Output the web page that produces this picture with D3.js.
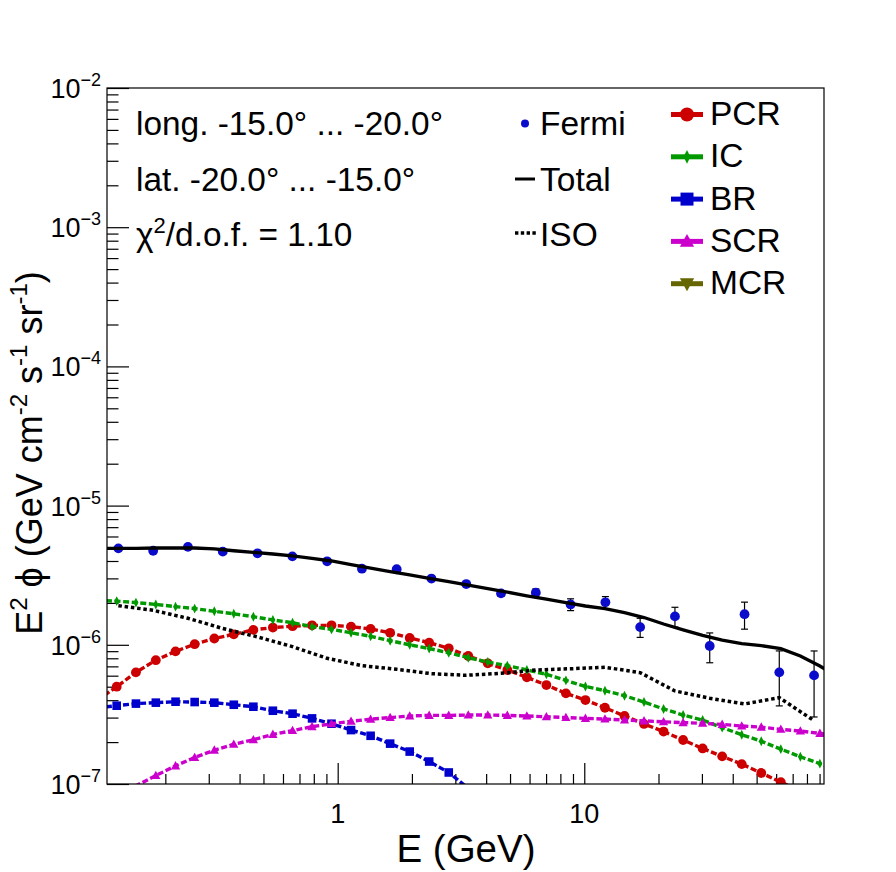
<!DOCTYPE html>
<html>
<head>
<meta charset="utf-8">
<script src="https://cdn.jsdelivr.net/npm/d3@7"></script>
<style>
  body { margin: 0; background: #fff; }
  svg { display: block; }
  text { font-family: "Liberation Sans", Arial, Helvetica, sans-serif; fill: #000; }
</style>
</head>
<body>
<svg id="chart" width="896" height="872"></svg>
<script>
// model grid (GeV), one point per marker
const modelEnergy = [0.106, 0.127, 0.152, 0.183, 0.220, 0.263, 0.316, 0.379, 0.455, 0.546,
    0.656, 0.787, 0.944, 1.133, 1.360, 1.632, 1.959, 2.350, 2.821, 3.385,
    4.062, 4.875, 5.850, 7.020, 8.425, 10.11, 12.13, 14.56, 17.47, 20.97,
    25.17, 30.20, 36.25, 43.51, 52.21, 62.67, 75.21, 90.25, 108.3];

const pcr = [4.0e-7, 5.0e-7, 6.34e-7, 7.75e-7, 8.97e-7, 1.01e-6, 1.11e-6, 1.19e-6, 1.28e-6, 1.33e-6,
    1.36e-6, 1.38e-6, 1.38e-6, 1.35e-6, 1.30e-6, 1.22e-6, 1.12e-6, 1.035e-6, 9.44e-7, 8.31e-7,
    7.36e-7, 6.59e-7, 5.84e-7, 5.14e-7, 4.48e-7, 4.01e-7, 3.53e-7, 3.08e-7, 2.70e-7, 2.38e-7,
    2.07e-7, 1.80e-7, 1.58e-7, 1.39e-7, 1.20e-7, 1.03e-7, 9.0e-8, 7.8e-8, 6.7e-8];

const ic = [2.08e-6, 2.06e-6, 2.01e-6, 1.95e-6, 1.88e-6, 1.82e-6, 1.74e-6, 1.67e-6, 1.59e-6, 1.51e-6,
    1.44e-6, 1.35e-6, 1.29e-6, 1.22e-6, 1.15e-6, 1.07e-6, 1.00e-6, 9.4e-7, 8.77e-7, 8.08e-7,
    7.52e-7, 7.08e-7, 6.59e-7, 6.14e-7, 5.55e-7, 5.02e-7, 4.68e-7, 4.31e-7, 3.88e-7, 3.46e-7,
    3.13e-7, 2.88e-7, 2.54e-7, 2.26e-7, 2.03e-7, 1.78e-7, 1.57e-7, 1.40e-7, 1.25e-7];

const br = [3.53e-7, 3.65e-7, 3.78e-7, 3.84e-7, 3.90e-7, 3.88e-7, 3.84e-7, 3.71e-7, 3.59e-7, 3.36e-7,
    3.20e-7, 2.96e-7, 2.71e-7, 2.44e-7, 2.22e-7, 1.95e-7, 1.71e-7, 1.45e-7, 1.21e-7, 9.3e-8,
    7.0e-8];

const scr = [6.8e-8, 8.2e-8, 9.7e-8, 1.15e-7, 1.35e-7, 1.55e-7, 1.75e-7, 1.93e-7, 2.08e-7, 2.27e-7,
    2.42e-7, 2.58e-7, 2.71e-7, 2.82e-7, 2.92e-7, 3.00e-7, 3.08e-7, 3.11e-7, 3.11e-7, 3.13e-7,
    3.13e-7, 3.11e-7, 3.08e-7, 3.04e-7, 3.00e-7, 2.96e-7, 2.93e-7, 2.88e-7, 2.84e-7, 2.80e-7,
    2.76e-7, 2.73e-7, 2.68e-7, 2.61e-7, 2.56e-7, 2.47e-7, 2.40e-7, 2.31e-7, 2.22e-7];

const mcr = [];   // below the plotted range everywhere, only in the legend

const total = [4.93e-6, 4.93e-6, 4.93e-6, 4.96e-6, 4.96e-6, 4.96e-6, 4.88e-6, 4.74e-6, 4.62e-6, 4.49e-6,
    4.35e-6, 4.18e-6, 4.00e-6, 3.77e-6, 3.56e-6, 3.36e-6, 3.18e-6, 3.00e-6, 2.84e-6, 2.68e-6,
    2.53e-6, 2.39e-6, 2.25e-6, 2.13e-6, 2.01e-6, 1.90e-6, 1.82e-6, 1.70e-6, 1.57e-6, 1.41e-6,
    1.28e-6, 1.17e-6, 1.08e-6, 1.02e-6, 9.86e-7, 9.38e-7, 8.31e-7, 7.04e-7, 5.8e-7];

// Fermi data bins (GeV)
const fermiEnergy = [0.129, 0.1785, 0.247, 0.342, 0.473, 0.655, 0.906, 1.254, 1.735, 2.400,
    3.322, 4.596, 6.360, 8.801, 12.18, 16.85, 23.32, 32.27, 44.66, 61.78, 85.50];
const fermiFlux = [4.93e-6, 4.74e-6, 5.05e-6, 4.67e-6, 4.54e-6, 4.32e-6, 3.98e-6, 3.52e-6, 3.49e-6, 2.99e-6,
    2.73e-6, 2.34e-6, 2.37e-6, 1.95e-6, 2.02e-6, 1.34e-6, 1.60e-6, 9.8e-7, 1.66e-6, 6.34e-7, 6.03e-7];
const fermiErr = [5e-8, 5e-8, 5e-8, 5e-8, 5e-8, 5e-8, 5e-8, 6e-8, 7e-8, 8e-8,
    9e-8, 1.1e-7, 1.5e-7, 1.9e-7, 2.0e-7, 2.1e-7, 2.6e-7, 2.37e-7, 3.65e-7, 2.7e-7, 3.0e-7];

// isotropic template, on the data bins
const iso = [1.91e-6, 1.77e-6, 1.55e-6, 1.31e-6, 1.14e-6, 9.7e-7, 8.0e-7, 7.08e-7, 6.67e-7, 6.20e-7,
    6.04e-7, 6.24e-7, 6.59e-7, 6.73e-7, 6.89e-7, 6.31e-7, 4.66e-7, 4.13e-7, 3.76e-7, 4.17e-7, 2.85e-7];

const yMajor = [1e-7, 1e-6, 1e-5, 1e-4, 1e-3, 1e-2];
const yExp = ["\u22127", "\u22126", "\u22125", "\u22124", "\u22123", "\u22122"];
const xMajor = [1, 10];
const xMajorLabels = ["1", "10"];

const infoLines = ["long. -15.0\u00b0 ... -20.0\u00b0", "lat. -20.0\u00b0 ... -15.0\u00b0"];

const components = [
    {name: "PCR", values: pcr, color: "#cc0000", marker: "circle"},
    {name: "IC",  values: ic,  color: "#009900", marker: "diamond"},
    {name: "BR",  values: br,  color: "#0000cc", marker: "square"},
    {name: "SCR", values: scr, color: "#cc00cc", marker: "triangle"},
    {name: "MCR", values: mcr, color: "#666600", marker: "triangledown"}
];

const frame = {left: 107, right: 824, top: 88, bottom: 784};

const svg = d3.select("#chart");

const x = d3.scaleLog().domain([0.116, 93.8]).range([frame.left, frame.right]);
const y = d3.scaleLog().domain([1e-7, 1e-2]).range([frame.bottom, frame.top]);

svg.append("defs").append("clipPath").attr("id", "frameclip")
    .append("rect")
    .attr("x", frame.left).attr("y", frame.top)
    .attr("width", frame.right - frame.left).attr("height", frame.bottom - frame.top);

// marker paths, centred on 0,0
function markerPath(type, s) {
    switch (type) {
        case "circle":
            return d3.symbol(d3.symbolCircle, Math.PI * s * s)();
        case "square":
            return `M${-s},${-s}h${2 * s}v${2 * s}h${-2 * s}Z`;
        case "diamond":
            return `M0,${-s * 1.5}L${s * 0.75},0L0,${s * 1.5}L${-s * 0.75},0Z`;
        case "triangle":
            return `M0,${-s * 1.1}L${s * 1.05},${s * 0.8}L${-s * 1.05},${s * 0.8}Z`;
        case "triangledown":
            return `M0,${s * 1.1}L${s * 1.05},${-s * 0.8}L${-s * 1.05},${-s * 0.8}Z`;
    }
}
const plotMarkerSize = {circle: 4.9, square: 4.3, diamond: 3.3, triangle: 4.4, triangledown: 4.4};

// ---- axes ----
const xMinor = [];
[0.1, 1, 10].forEach(d => { for (let m = 2; m <= 9; m++) xMinor.push(m * d); });
const yMinor = [];
[1e-7, 1e-6, 1e-5, 1e-4, 1e-3].forEach(d => { for (let m = 2; m <= 9; m++) yMinor.push(m * d); });

const inX = v => v >= x.domain()[0] && v <= x.domain()[1];

const axisG = svg.append("g");
axisG.append("g")
    .attr("transform", `translate(0,${frame.bottom})`)
    .call(d3.axisBottom(x).tickValues(xMinor.filter(inX)).tickSize(-10).tickFormat(""))
    .call(g => g.select(".domain").remove());
axisG.append("g")
    .attr("transform", `translate(0,${frame.bottom})`)
    .call(d3.axisBottom(x).tickValues(xMajor).tickSize(-21).tickFormat(""))
    .call(g => g.select(".domain").remove());
axisG.append("g")
    .attr("transform", `translate(${frame.left},0)`)
    .call(d3.axisLeft(y).tickValues(yMinor).tickSize(-11.5).tickFormat(""))
    .call(g => g.select(".domain").remove());
axisG.append("g")
    .attr("transform", `translate(${frame.left},0)`)
    .call(d3.axisLeft(y).tickValues(yMajor).tickSize(-22).tickFormat(""))
    .call(g => g.select(".domain").remove());
axisG.selectAll(".tick line").attr("stroke", "#000").attr("stroke-width", 1.2);

// tick labels
svg.append("g").selectAll("text").data(xMajor).join("text")
    .attr("x", d => x(d)).attr("y", frame.bottom + 39)
    .attr("text-anchor", "middle").attr("font-size", 27)
    .text((d, i) => xMajorLabels[i]);

const yl = svg.append("g").selectAll("text").data(yMajor).join("text")
    .attr("x", 101).attr("y", d => y(d) + 10)
    .attr("text-anchor", "end").attr("font-size", 27);
yl.append("tspan").text("10");
yl.append("tspan").attr("font-size", 18).attr("dy", -12).text((d, i) => yExp[i]);

// axis titles
svg.append("text")
    .attr("x", 466).attr("y", 862)
    .attr("text-anchor", "middle").attr("font-size", 38.5)
    .text("E (GeV)");

const yt = svg.append("text")
    .attr("transform", "translate(42,453) rotate(-90)")
    .attr("text-anchor", "middle").attr("font-size", 36);
[["E", 0], ["2", 1], [" \u03d5 (GeV cm", 0], ["-2", 1], [" s", 0], ["-1", 1], [" sr", 0], ["-1", 1], [")", 0]]
    .forEach((p, i, arr) => {
        const prevSup = i > 0 && arr[i - 1][1];
        const ts = yt.append("tspan").text(p[0]);
        if (p[1]) ts.attr("font-size", 24).attr("dy", -15);
        else if (prevSup) ts.attr("dy", 15);
    });

// ---- plot contents ----
const plot = svg.append("g").attr("clip-path", "url(#frameclip)");

// Fermi points with error bars
const fermi = fermiEnergy.map((e, i) => ({e: e, v: fermiFlux[i], err: fermiErr[i]}));
const fg = plot.append("g");
fg.selectAll("line.bar").data(fermi).join("line")
    .attr("class", "bar")
    .attr("x1", d => x(d.e)).attr("x2", d => x(d.e))
    .attr("y1", d => y(d.v - d.err)).attr("y2", d => y(d.v + d.err))
    .attr("stroke", "#000").attr("stroke-width", 1.2);
["lo", "hi"].forEach(end => {
    fg.selectAll("line.cap" + end).data(fermi).join("line")
        .attr("class", "cap" + end)
        .attr("x1", d => x(d.e) - 3.5).attr("x2", d => x(d.e) + 3.5)
        .attr("y1", d => y(end === "lo" ? d.v - d.err : d.v + d.err))
        .attr("y2", d => y(end === "lo" ? d.v - d.err : d.v + d.err))
        .attr("stroke", "#000").attr("stroke-width", 1.2);
});
fg.selectAll("circle").data(fermi).join("circle")
    .attr("cx", d => x(d.e)).attr("cy", d => y(d.v)).attr("r", 4.9)
    .attr("fill", "#0b0bcc");

const line = d3.line().x(d => x(d.e)).y(d => y(d.v));

components.forEach(c => {
    const pts = c.values.map((v, i) => ({e: modelEnergy[i], v: v}));
    const g = plot.append("g");
    g.append("path").datum(pts)
        .attr("d", line)
        .attr("fill", "none").attr("stroke", c.color)
        .attr("stroke-width", 3.4).attr("stroke-dasharray", "6,2.6");
    g.selectAll("path.m").data(pts.filter(d => inX(d.e) && d.v >= 1e-7)).join("path")
        .attr("class", "m")
        .attr("transform", d => `translate(${x(d.e)},${y(d.v)})`)
        .attr("d", markerPath(c.marker, plotMarkerSize[c.marker]))
        .attr("fill", c.color);
});

// Total
plot.append("path")
    .datum(total.map((v, i) => ({e: modelEnergy[i], v: v})))
    .attr("d", line)
    .attr("fill", "none").attr("stroke", "#000").attr("stroke-width", 3.3);

// ISO
plot.append("path")
    .datum(iso.map((v, i) => ({e: fermiEnergy[i], v: v})))
    .attr("d", line)
    .attr("fill", "none").attr("stroke", "#000")
    .attr("stroke-width", 3.5).attr("stroke-dasharray", "3.5,2.8");

// frame
svg.append("rect")
    .attr("x", frame.left).attr("y", frame.top)
    .attr("width", frame.right - frame.left).attr("height", frame.bottom - frame.top)
    .attr("fill", "none").attr("stroke", "#000").attr("stroke-width", 1.2);

// ---- info text ----
const info = svg.append("g").attr("font-size", 33.4);
infoLines.forEach((t, i) => {
    info.append("text").attr("x", 136).attr("y", 135 + i * 55.5).text(t);
});
const chi = info.append("text").attr("x", 136).attr("y", 246);
chi.append("tspan").text("\u03c7");
chi.append("tspan").attr("font-size", 22).attr("dy", -13).text("2");
chi.append("tspan").attr("dy", 13).text("/d.o.f. = 1.10");

// ---- legend ----
const leg = svg.append("g").attr("font-size", 33.5);

leg.append("circle").attr("cx", 525).attr("cy", 123.5).attr("r", 4).attr("fill", "#0b0bcc");
leg.append("text").attr("x", 540).attr("y", 135).text("Fermi");
leg.append("line").attr("x1", 515).attr("x2", 535).attr("y1", 179).attr("y2", 179)
    .attr("stroke", "#000").attr("stroke-width", 3);
leg.append("text").attr("x", 540).attr("y", 191).text("Total");
leg.append("line").attr("x1", 515).attr("x2", 536).attr("y1", 233).attr("y2", 233)
    .attr("stroke", "#000").attr("stroke-width", 3.3).attr("stroke-dasharray", "3.4,2.4");
leg.append("text").attr("x", 540).attr("y", 246).text("ISO");

const legMarkerSize = {circle: 7, square: 6.5, diamond: 4.6, triangle: 6.8, triangledown: 6.8};
components.forEach((c, i) => {
    const cy = 114.5 + i * 42.3;
    leg.append("line").attr("x1", 671).attr("x2", 703).attr("y1", cy).attr("y2", cy)
        .attr("stroke", c.color).attr("stroke-width", 5);
    leg.append("path").attr("transform", `translate(687,${cy})`)
        .attr("d", markerPath(c.marker, legMarkerSize[c.marker]))
        .attr("fill", c.color);
    leg.append("text").attr("x", 710).attr("y", cy + 10.5).text(c.name);
});
</script>
</body>
</html>
